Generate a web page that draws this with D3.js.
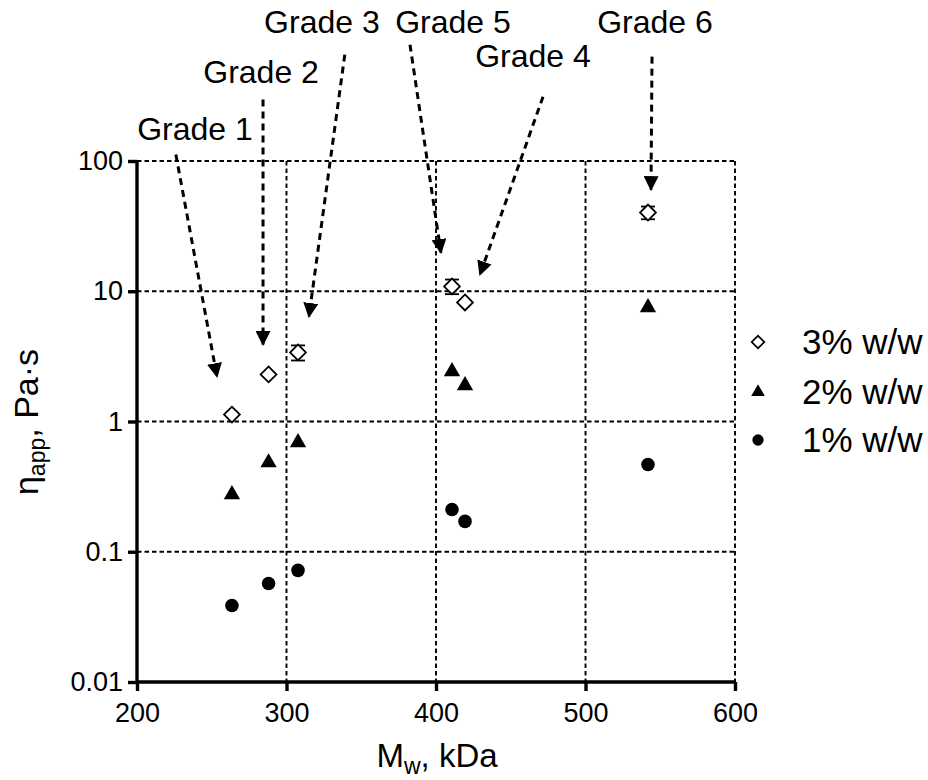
<!DOCTYPE html>
<html><head><meta charset="utf-8">
<script src="https://cdn.jsdelivr.net/npm/d3@7"></script>
<style>body{margin:0;background:#fff}svg{display:block}text{font-family:"Liberation Sans",Arial,sans-serif;fill:#000}</style>
</head><body><svg id="c" width="928" height="780"></svg>
<script>
const mw = [263.5, 288, 307.7, 410.7, 419.4, 541.8];
const visc3 = [1.13, 2.3, 3.39, 10.9, 8.2, 40.2];
const err3 = [0, 0, 0.45, 1.4, 0, 4.5];
const visc2 = [0.275, 0.484, 0.69, 2.42, 1.89, 7.5];
const visc1 = [0.0387, 0.057, 0.072, 0.211, 0.171, 0.468];
const xTicks = [200, 300, 400, 500, 600];
const yTicks = [0.01, 0.1, 1, 10, 100];
const yTickLabels = ["0.01", "0.1", "1", "10", "100"];
const legendLabels = ["3% w/w", "2% w/w", "1% w/w"];
const gradeNames = ["Grade 1", "Grade 2", "Grade 3", "Grade 5", "Grade 4", "Grade 6"];
const gradeLabelX = [238.8, 283, 323.7, 411.4, 464.9, 546.5];
const gradeLabelY = [146, 400, 967, 967, 530, 967];
const arrowFromX = [226, 284.3, 339, 382.6, 471.6, 544.5];
const arrowFromY = [112, 296, 656, 782, 312, 633];
const arrowToX = [253.5, 284.3, 315, 403.3, 429.4, 543.8];
const arrowToY = [2.21, 3.9, 6.4, 19.8, 13.4, 60.3];

const svg = d3.select("#c");
const x = d3.scaleLinear().domain([200, 600]).range([137, 735]);
const y = d3.scaleLog().domain([0.01, 100]).range([682, 161]);

// grid
const grid = svg.append("g").attr("stroke", "#000").attr("stroke-width", 1.9).attr("stroke-dasharray", "4.5,3").attr("fill","none");
xTicks.slice(1).forEach(v => grid.append("line").attr("x1", x(v)).attr("x2", x(v)).attr("y1", y(100)).attr("y2", y(0.01)));
yTicks.slice(1).forEach(v => grid.append("line").attr("x1", x(200)).attr("x2", x(600)).attr("y1", y(v)).attr("y2", y(v)));

// axes
const xAxis = svg.append("g").attr("transform", `translate(0,${y(0.01)})`)
  .call(d3.axisBottom(x).tickValues(xTicks).tickSize(9).tickPadding(12).tickFormat(d3.format("d")));
const yAxis = svg.append("g").attr("transform", `translate(${x(200)},0)`)
  .call(d3.axisLeft(y).tickValues(yTicks).tickSize(9).tickPadding(5).tickFormat((d, i) => yTickLabels[i]));
[xAxis, yAxis].forEach(a => {
  a.select(".domain").attr("stroke", "#000").attr("stroke-width", 3.4);
  a.selectAll(".tick line").attr("stroke", "#000").attr("stroke-width", 3.4);
  a.selectAll(".tick text").attr("font-size", 27).attr("font-family", "Liberation Sans, Arial, sans-serif").attr("fill", "#000");
});
xAxis.select(".domain").attr("d", `M${x(200)},0H${x(600)}`);
yAxis.select(".domain").attr("d", `M0,${y(0.01)}V${y(100)}`);

// axis titles
const xt = svg.append("text").attr("x", 437).attr("y", 767).attr("text-anchor", "middle").attr("font-size", 33);
xt.append("tspan").text("M");
xt.append("tspan").attr("font-size", 23).attr("dy", 7).text("w");
xt.append("tspan").attr("dy", -7).text(", kDa");
const yt = svg.append("text").attr("transform", "translate(38,422) rotate(-90)").attr("text-anchor", "middle").attr("font-size", 34);
yt.append("tspan").text("η");
yt.append("tspan").attr("font-size", 23).attr("dy", 7).text("app");
yt.append("tspan").attr("dy", -7).text(", Pa·s");

// arrows
const defs = svg.append("defs");
defs.append("marker").attr("id", "ah").attr("viewBox", "0 0 10 10").attr("refX", 9).attr("refY", 5)
  .attr("markerWidth", 15).attr("markerHeight", 15).attr("markerUnits", "userSpaceOnUse").attr("orient", "auto")
  .append("path").attr("d", "M0,0L10,5L0,10Z").attr("fill", "#000");
const ann = svg.append("g");
gradeNames.forEach((g, i) => {
  ann.append("line").attr("x1", x(arrowFromX[i])).attr("y1", y(arrowFromY[i]))
    .attr("x2", x(arrowToX[i])).attr("y2", y(arrowToY[i]))
    .attr("stroke", "#000").attr("stroke-width", 3).attr("stroke-dasharray", "7,5").attr("marker-end", "url(#ah)");
  ann.append("text").attr("x", x(gradeLabelX[i])).attr("y", y(gradeLabelY[i])).attr("text-anchor", "middle")
    .attr("font-size", 32).text(g);
});

// error bars
const eb = svg.append("g").attr("stroke", "#000").attr("stroke-width", 1.8);
mw.forEach((m, i) => {
  if (!err3[i]) return;
  const cx = x(m), t = y(visc3[i] + err3[i]), b = y(visc3[i] - err3[i]);
  eb.append("line").attr("x1", cx).attr("x2", cx).attr("y1", t).attr("y2", b);
  eb.append("line").attr("x1", cx - 7).attr("x2", cx + 7).attr("y1", t).attr("y2", t);
  eb.append("line").attr("x1", cx - 7).attr("x2", cx + 7).attr("y1", b).attr("y2", b);
});

const sym = {
  d: d3.symbol().type(d3.symbolSquare),
  t: d3.symbol().type(d3.symbolTriangle),
  c: d3.symbol().type(d3.symbolCircle)
};
// points
svg.append("g").selectAll("path").data(mw).join("path")
  .attr("transform", (d, i) => `translate(${x(d)},${y(visc3[i])}) rotate(45)`)
  .attr("d", sym.d.size(125)()).attr("fill", "#fff").attr("stroke", "#000").attr("stroke-width", 1.8);
svg.append("g").selectAll("path").data(mw).join("path")
  .attr("transform", (d, i) => `translate(${x(d)},${y(visc2[i])})`)
  .attr("d", sym.t.size(115)()).attr("fill", "#000");
svg.append("g").selectAll("path").data(mw).join("path")
  .attr("transform", (d, i) => `translate(${x(d)},${y(visc1[i])})`)
  .attr("d", sym.c.size(145)()).attr("fill", "#000");

// legend
const lg = svg.append("g");
const ly = [342, 392, 440];
lg.append("path").attr("transform", `translate(758,${ly[0]}) rotate(45)`).attr("d", sym.d.size(80)()).attr("fill", "#fff").attr("stroke", "#000").attr("stroke-width", 1.7);
lg.append("path").attr("transform", `translate(758,${ly[1]})`).attr("d", sym.t.size(80)()).attr("fill", "#000");
lg.append("path").attr("transform", `translate(758,${ly[2]})`).attr("d", sym.c.size(100)()).attr("fill", "#000");
legendLabels.forEach((t, i) => lg.append("text").attr("x", 802).attr("y", ly[i] + 12).attr("font-size", 35).text(t));
</script></body></html>
